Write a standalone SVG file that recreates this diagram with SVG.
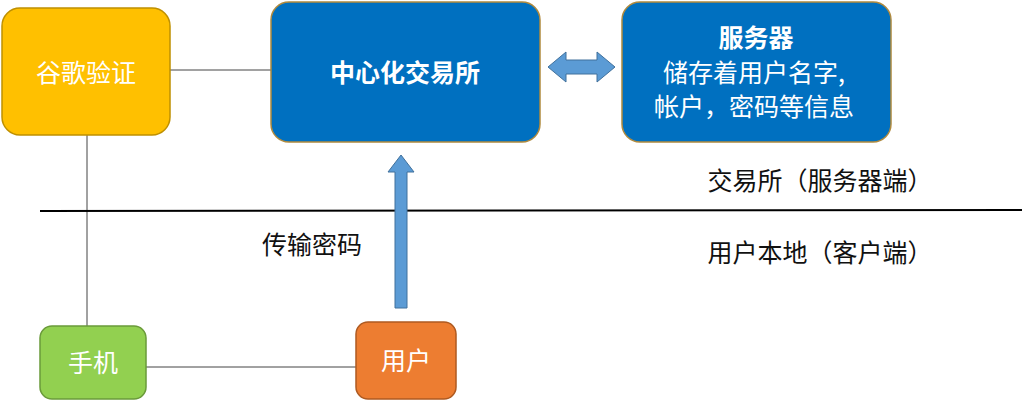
<svg xmlns="http://www.w3.org/2000/svg" width="1024" height="411" viewBox="0 0 1024 411">
<style>
text{font-family:"Noto Sans CJK SC","Liberation Sans",sans-serif;font-size:25px}
.w{fill:#fff}
.k{fill:#111}
.ln{stroke:#444;stroke-width:1;fill:none}
.blue{fill:#0070C0;stroke:#B08A3E;stroke-width:1.5}
.arr{fill:#5B9BD5;stroke:#41719C;stroke-width:1}
</style>
<g id="connectors">
<line class="ln" x1="170" y1="70" x2="271" y2="70"/>
<line class="ln" x1="87" y1="135" x2="87" y2="326"/>
<line class="ln" x1="146" y1="367" x2="356" y2="367"/>
<line x1="40" y1="211" x2="1022" y2="210" stroke="#000" stroke-width="2"/>
<polygon class="arr" points="548,67 566,52 566,60 597,60 597,52 615,67 597,82 597,74 566,74 566,82"/>
<polygon class="arr" points="401,155 414,172 407,172 407,308 395,308 395,172 388,172"/>
</g>
<g id="google"><rect x="2" y="8" width="168" height="127" rx="18" fill="#FFC000" stroke="#BF9000" stroke-width="1.5"/><text class="w" x="86" y="82" text-anchor="middle">谷歌验证</text></g>
<g id="exchange"><rect class="blue" x="271" y="2" width="269" height="140" rx="18"/><text class="w" x="405" y="82" text-anchor="middle" font-weight="bold">中心化交易所</text></g>
<g id="server"><rect class="blue" x="622" y="2" width="269" height="140" rx="18"/>
<text class="w" x="756" y="47" text-anchor="middle" font-weight="bold">服务器</text>
<text class="w" x="754" y="82" text-anchor="middle">储存着用户名字,</text>
<text class="w" x="754" y="116" text-anchor="middle">帐户，密码等信息</text></g>
<g id="phone"><rect x="40" y="326" width="106" height="73" rx="12" fill="#92D050" stroke="#6A9A3A" stroke-width="1.5"/><text class="w" x="93" y="372" text-anchor="middle">手机</text></g>
<g id="user"><rect x="356" y="322" width="100" height="77" rx="12" fill="#ED7D31" stroke="#AE5A21" stroke-width="1.5"/><text class="w" x="406" y="370" text-anchor="middle">用户</text></g>
<g id="labels">
<text class="k" x="820" y="190" text-anchor="middle">交易所（服务器端）</text>
<text class="k" x="820" y="262" text-anchor="middle">用户本地（客户端）</text>
<text class="k" x="312" y="254" text-anchor="middle">传输密码</text>
</g>
</svg>
